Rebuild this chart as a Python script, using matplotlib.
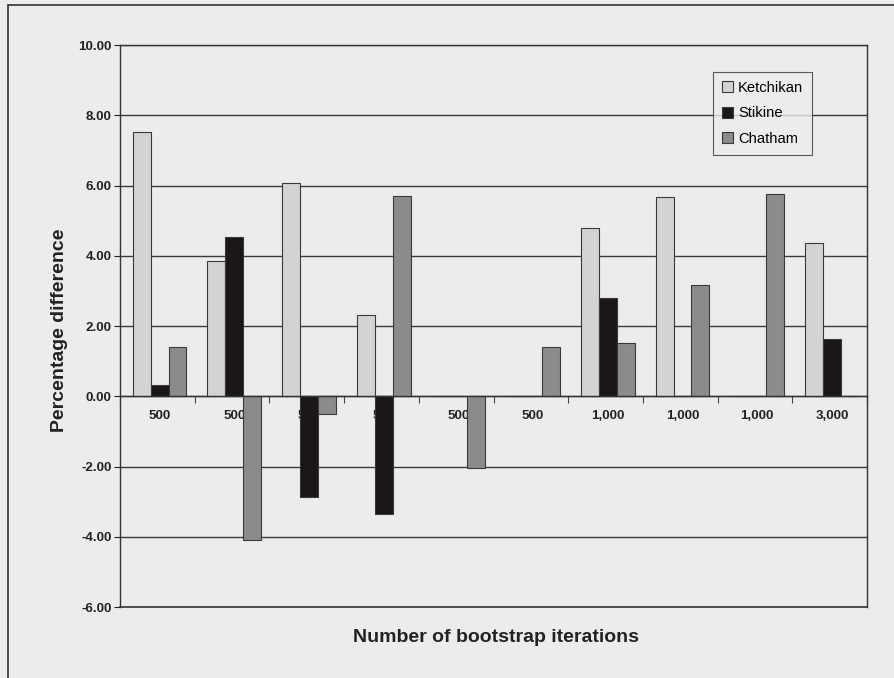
import numpy as np
import matplotlib.pyplot as plt
from matplotlib.patches import Rectangle

plt.rcParams['font.family'] = ['Liberation Sans', 'DejaVu Sans']

# bootstrap iteration counts on the category axis
categories = ["500", "500", "500", "500", "500", "500", "1,000", "1,000", "1,000", "3,000"]

# percentage difference for each region
ketchikan = [7.53, 3.85, 6.06, 2.31, 0.0, 0.0, 4.78, 5.66, 0.0, 4.37]
stikine = [0.31, 4.54, -2.87, -3.36, 0.0, 0.0, 2.80, 0.0, 0.0, 1.64]
chatham = [1.40, -4.10, -0.51, 5.71, -2.03, 1.40, 1.52, 3.16, 5.75, 0.0]

series = [("Ketchikan", ketchikan, "#d3d2d5"),
          ("Stikine", stikine, "#1b1719"),
          ("Chatham", chatham, "#8b8a8d")]

bg = "#ecebee"
fig = plt.figure(figsize=(8.95, 6.78), dpi=100, facecolor=bg)
ax = fig.add_axes([0.1341, 0.1047, 0.8346, 0.8289])
ax.set_facecolor(bg)
ax.set_axisbelow(True)

x = np.arange(len(categories))
w = 0.24
shift = 0.03
for i, (name, vals, col) in enumerate(series):
    ax.bar(x + shift + (i - 1) * w, vals, width=w, color=col,
           edgecolor="#3a3a3a", linewidth=0.8, label=name)

ax.set_xlim(-0.5, len(categories) - 0.5)
ax.set_ylim(-6, 10)
yt = np.arange(-6, 10.1, 2)
ax.set_yticks(yt)
ax.set_yticklabels([f"{v:.2f}" for v in yt], fontsize=9.6, fontweight="bold", color="#222222")
ax.tick_params(axis="y", direction="out", length=4, width=0.8, pad=2, colors="#222222")
ax.yaxis.grid(True, color="#3a3a3a", linewidth=1.0)
ax.axhline(-6, color="#333333", linewidth=1.2, clip_on=False)

# category axis crosses at zero
ax.spines["bottom"].set_position(("data", 0))
ax.set_xticks(x + shift)
ax.set_xticklabels(categories, fontsize=9.6, fontweight="bold", color="#222222")
ax.set_xticks(np.arange(-0.5, len(categories)), minor=True)
ax.tick_params(axis="x", which="major", length=0, pad=10)
ax.tick_params(axis="x", which="minor", direction="out", length=5, width=0.8, colors="#444444")

for s in ["left", "right", "top", "bottom"]:
    ax.spines[s].set_color("#333333")
    ax.spines[s].set_linewidth(1.0)

fig.text(0.067, 0.513, "Percentage difference", fontsize=14, fontweight="bold",
         color="#222222", ha="center", va="center", rotation=90)
fig.text(0.554, 0.059, "Number of bootstrap iterations", fontsize=14,
         fontweight="bold", color="#222222", ha="center", va="center")

leg = ax.legend(loc="upper right", bbox_to_anchor=(0.9268, 0.9525), fontsize=10.6,
                frameon=True, fancybox=False, handlelength=0.75, handleheight=0.75,
                handletextpad=0.35, labelspacing=0.78, borderpad=0.62, borderaxespad=0)
leg.get_frame().set_edgecolor("#333333")
leg.get_frame().set_facecolor(bg)
leg.get_frame().set_linewidth(0.8)

# outer chart border
fig.patches.append(Rectangle((0.0089, -0.02), 1.1, 1.0126, transform=fig.transFigure,
                             fill=False, edgecolor="#333333", linewidth=1.2))

fig.savefig("out.png", dpi=100, facecolor=bg)
